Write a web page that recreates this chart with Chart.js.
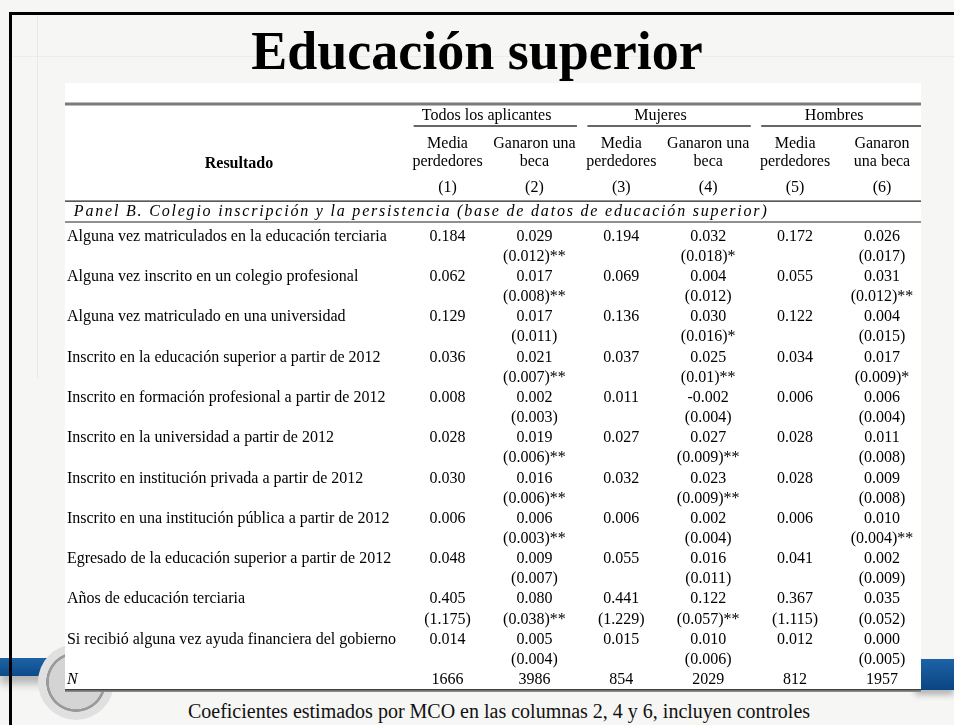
<!DOCTYPE html>
<html>
<head>
<meta charset="utf-8">
<script src="https://cdn.jsdelivr.net/npm/chart.js@4/dist/chart.umd.min.js"></script>
<style>
  body { margin: 0; width: 954px; height: 725px; background: #f6f6f4; position: relative; overflow: hidden; font-family: "Liberation Serif", "Times New Roman", serif; }
  .frame-left { position: absolute; left: 9px; top: 12px; width: 3px; bottom: 0; background: #000; }
  .frame-top { position: absolute; left: 9px; top: 12px; right: 0; height: 3px; background: #000; }
  .faint-v { position: absolute; left: 37px; top: 15px; width: 1px; height: 363px; background: #e8e8e8; }
  .faint-h { position: absolute; left: 12px; top: 56px; right: 0; height: 1px; background: #ececec; }
  .band-left { position: absolute; left: 0; top: 658px; width: 70px; height: 18px; background: linear-gradient(#1d63a6, #0c4a88); box-shadow: 0 8px 8px #b5b5b5; }
  .band-right { position: absolute; left: 915px; top: 659px; right: 0; height: 31px; background: linear-gradient(#1d63a6, #0b4482); box-shadow: 0 5px 6px #b5b5b5; }
  .seal { position: absolute; left: 38px; top: 644px; width: 76px; height: 76px; border-radius: 50%;
          background: radial-gradient(circle, #d4d4d4 0 50%, #9a9a9a 51% 55%, #e0e0e0 56% 87%, #8c8c8c 88% 100%); }
  #title { position: absolute; left: 0; top: 16px; width: 954px; text-align: center; font-weight: bold; font-size: 54px; line-height: 70px; color: #000; }
  #wrap { position: absolute; left: 65px; top: 83px; width: 856px; height: 609px; background: #fff; }
  #footer { position: absolute; left: 22px; top: 698px; width: 954px; text-align: center; font-size: 20px; line-height: 26px; color: #111; }
</style>
</head>
<body>
<div class="faint-v"></div>
<div class="faint-h"></div>
<div class="band-left"></div>
<div class="band-right"></div>
<div class="seal"></div>
<div class="frame-left"></div>
<div class="frame-top"></div>
<div id="title">Educación superior</div>
<div id="wrap"><canvas id="tabla" width="856" height="609"></canvas></div>
<div id="footer">Coeficientes estimados por MCO en las columnas 2, 4 y 6, incluyen controles</div>

<script>
const outcomes = [
  'Alguna vez matriculados en la educación terciaria',
  'Alguna vez inscrito en un colegio profesional',
  'Alguna vez matriculado en una universidad',
  'Inscrito en la educación superior a partir de 2012',
  'Inscrito en formación profesional a partir de 2012',
  'Inscrito en la universidad a partir de 2012',
  'Inscrito en institución privada a partir de 2012',
  'Inscrito en una institución pública a partir de 2012',
  'Egresado de la educación superior a partir de 2012',
  'Años de educación terciaria',
  'Si recibió alguna vez ayuda financiera del gobierno'
];

const mediaTodos   = [0.184, 0.062, 0.129, 0.036, 0.008, 0.028, 0.030, 0.006, 0.048, 0.405, 0.014];
const sdTodos      = [null, null, null, null, null, null, null, null, null, 1.175, null];
const becaTodos    = [0.029, 0.017, 0.017, 0.021, 0.002, 0.019, 0.016, 0.006, 0.009, 0.080, 0.005];
const seTodos      = ['0.012', '0.008', '0.011', '0.007', '0.003', '0.006', '0.006', '0.003', '0.007', '0.038', '0.004'];
const starsTodos   = ['**', '**', '', '**', '', '**', '**', '**', '', '**', ''];

const mediaMujeres = [0.194, 0.069, 0.136, 0.037, 0.011, 0.027, 0.032, 0.006, 0.055, 0.441, 0.015];
const sdMujeres    = [null, null, null, null, null, null, null, null, null, 1.229, null];
const becaMujeres  = [0.032, 0.004, 0.030, 0.025, -0.002, 0.027, 0.023, 0.002, 0.016, 0.122, 0.010];
const seMujeres    = ['0.018', '0.012', '0.016', '0.01', '0.004', '0.009', '0.009', '0.004', '0.011', '0.057', '0.006'];
const starsMujeres = ['*', '', '*', '**', '', '**', '**', '', '', '**', ''];

const mediaHombres = [0.172, 0.055, 0.122, 0.034, 0.006, 0.028, 0.028, 0.006, 0.041, 0.367, 0.012];
const sdHombres    = [null, null, null, null, null, null, null, null, null, 1.115, null];
const becaHombres  = [0.026, 0.031, 0.004, 0.017, 0.006, 0.011, 0.009, 0.010, 0.002, 0.035, 0.000];
const seHombres    = ['0.017', '0.012', '0.015', '0.009', '0.004', '0.008', '0.008', '0.004', '0.009', '0.052', '0.005'];
const starsHombres = ['', '**', '', '*', '', '', '', '**', '', '', ''];

const sampleN = [1666, 3986, 854, 2029, 812, 1957];

const groupTitles  = ['Todos los aplicantes', 'Mujeres', 'Hombres'];
const mediaTitle   = ['Media', 'perdedores'];
const becaTitles   = [['Ganaron una', 'beca'], ['Ganaron una', 'beca'], ['Ganaron', 'una beca']];
const columnTitles = ['(1)', '(2)', '(3)', '(4)', '(5)', '(6)'];
const stubTitle    = 'Resultado';
const panelTitle   = 'Panel B. Colegio inscripción y la persistencia (base de datos de educación superior)';
const nLabel       = 'N';

// ---- layout in table units: x = column number, y = text line ----
const X_MIN = -3.402, X_MAX = 6.449;
const Y_MIN = -7.618, Y_MAX = 22.605;
const STUB_X = -3.38;
const N_LINE = outcomes.length * 2;

const FONT = '16px "Liberation Serif"';

function fmt(v) { return v.toFixed(3); }

// one text dataset per numeric column
const columns = [
  { mean: mediaTodos,   sd: sdTodos },
  { coef: becaTodos,    se: seTodos,    stars: starsTodos },
  { mean: mediaMujeres, sd: sdMujeres },
  { coef: becaMujeres,  se: seMujeres,  stars: starsMujeres },
  { mean: mediaHombres, sd: sdHombres },
  { coef: becaHombres,  se: seHombres,  stars: starsHombres }
];

function textSet(points, font, align, extra) {
  return Object.assign({ type: 'scatter', data: points, font: font, align: align,
    pointRadius: 0, pointHoverRadius: 0, showLine: false, isText: true }, extra || {});
}

function ruleSet(x0, x1, y, color, width) {
  return { type: 'scatter', data: [{ x: x0, y: y }, { x: x1, y: y }], showLine: true,
    borderColor: color, borderWidth: width, pointRadius: 0, pointHoverRadius: 0 };
}

const datasets = [];

columns.forEach((col, i) => {
  const c = i + 1;
  const pts = [];
  if (col.mean) {
    col.mean.forEach((v, r) => {
      pts.push({ x: c, y: 2 * r, text: fmt(v) });
      if (col.sd[r] !== null) pts.push({ x: c, y: 2 * r + 1, text: '(' + fmt(col.sd[r]) + ')' });
    });
  } else {
    col.coef.forEach((v, r) => {
      pts.push({ x: c, y: 2 * r, text: fmt(v) });
      pts.push({ x: c, y: 2 * r + 1, text: '(' + col.se[r] + ')' + col.stars[r] });
    });
  }
  pts.push({ x: c, y: N_LINE, text: String(sampleN[i]) });
  datasets.push(textSet(pts, FONT, 'center'));
});

// row stub
datasets.push(textSet(outcomes.map((o, r) => ({ x: STUB_X, y: 2 * r, text: o })), FONT, 'left'));
datasets.push(textSet([{ x: STUB_X, y: N_LINE, text: nLabel }], 'italic ' + FONT, 'left'));

// headers
datasets.push(textSet([{ x: -1.4, y: -3.6, text: stubTitle }], 'bold ' + FONT, 'center'));
datasets.push(textSet(groupTitles.map((g, i) => ({ x: 2 * i + 1.45, y: -6.0, text: g })), FONT, 'center'));
const subPts = [];
groupTitles.forEach((g, i) => {
  subPts.push({ x: 2 * i + 1, y: -4.6, text: mediaTitle[0] });
  subPts.push({ x: 2 * i + 1, y: -3.7, text: mediaTitle[1] });
  subPts.push({ x: 2 * i + 2, y: -4.6, text: becaTitles[i][0] });
  subPts.push({ x: 2 * i + 2, y: -3.7, text: becaTitles[i][1] });
});
datasets.push(textSet(subPts, FONT, 'center'));
datasets.push(textSet(columnTitles.map((t, i) => ({ x: i + 1, y: -2.41, text: t })), FONT, 'center'));
datasets.push(textSet([{ x: -3.30, y: -1.22, text: panelTitle }], 'italic ' + FONT, 'left', { spacing: '1.8px' }));

// rules
datasets.push(ruleSet(X_MIN, X_MAX, -6.58, '#7a7a7a', 3));
groupTitles.forEach((g, i) => {
  const last = i === groupTitles.length - 1;
  datasets.push(ruleSet(2 * i + 0.61, last ? X_MAX : 2 * i + 2.49, -5.48, '#333', 1.5));
});
datasets.push(ruleSet(X_MIN, X_MAX, -1.76, '#222', 1.2));
datasets.push(ruleSet(X_MIN, X_MAX, -0.72, '#222', 1.2));
datasets.push(ruleSet(X_MIN, X_MAX, N_LINE + 0.5, '#000', 1.2));
datasets.push(ruleSet(X_MIN, X_MAX, N_LINE + 0.58, '#8a8a8a', 1.5));

const tableText = {
  id: 'tableText',
  afterDatasetsDraw(chart) {
    const ctx = chart.ctx;
    ctx.save();
    ctx.fillStyle = '#000';
    ctx.textBaseline = 'middle';
    chart.data.datasets.forEach((ds, i) => {
      if (!ds.isText) return;
      const meta = chart.getDatasetMeta(i);
      ctx.font = ds.font;
      ctx.textAlign = ds.align;
      if ('letterSpacing' in ctx) ctx.letterSpacing = ds.spacing || '0px';
      meta.data.forEach((pt, j) => {
        ctx.fillText(ds.data[j].text, pt.x, pt.y);
      });
    });
    ctx.restore();
  }
};

new Chart(document.getElementById('tabla'), {
  type: 'scatter',
  data: { datasets: datasets },
  options: {
    responsive: false,
    animation: false,
    clip: false,
    layout: { padding: 0 },
    plugins: { legend: { display: false }, tooltip: { enabled: false }, title: { display: false } },
    events: [],
    scales: {
      x: { type: 'linear', min: X_MIN, max: X_MAX, display: false },
      y: { type: 'linear', min: Y_MIN, max: Y_MAX, reverse: true, display: false }
    }
  },
  plugins: [tableText]
});
</script>
</body>
</html>
